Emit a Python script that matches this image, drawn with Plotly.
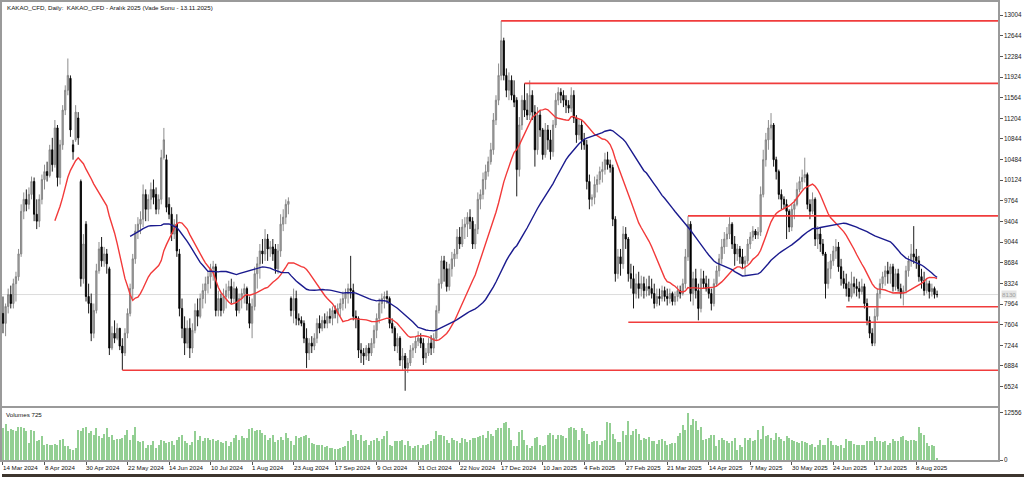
import pandas as pd
import plotly.graph_objects as go

# ---------------- data ----------------
open_ = [
    7801, 7628, 7923, 8130, 7974, 8320, 8442, 8839, 9583, 9791,
    9704, 9877, 10102, 9531, 9410, 9791, 10137, 10275, 10206, 10656,
    10396, 11037, 10172, 10742, 11348, 11694, 11902, 10742, 10829, 11210,
    10102, 8407, 9358, 8096, 7974, 7455, 7853, 8545, 8961, 8718,
    8839, 8580, 7196, 7455, 7369, 7542, 7231, 7110, 7455, 7801,
    8234, 8753, 9237, 9358, 9445, 9877, 9618, 9791, 9964, 9877,
    9618, 9791, 10518, 10483, 9704, 9531, 9185, 9358, 8839, 7888,
    7542, 7282, 7542, 7196, 7507, 7853, 7750, 8061, 8199, 8320,
    8442, 8580, 8615, 7853, 8061, 7853, 8096, 8199, 8269, 8061,
    8234, 7853, 8061, 8148, 8234, 7974, 7628, 7923, 8494, 8667,
    8891, 8839, 9099, 8926, 8961, 8926, 8580, 8891, 9358, 9480,
    9704, 8061, 7853, 8061, 7715, 7680, 7628, 7369, 7110, 7282,
    7231, 7369, 7628, 7542, 7680, 7628, 7750, 7715, 7853, 7801,
    7888, 7974, 8061, 8148, 8234, 8199, 7750, 7715, 7161, 7110,
    7058, 7196, 7110, 7282, 7507, 7715, 7974, 8061, 8096, 8061,
    7628, 7542, 7231, 7369, 6988, 7058, 6850, 6937, 7161, 7196,
    7317, 7369, 7282, 7023, 7110, 7282, 7196, 7369, 7853, 8320,
    8718, 8580, 8269, 8580, 8753, 8839, 9134, 9012, 9307, 9358,
    9480, 9410, 9012, 9272, 9791, 9877, 10137, 10275, 10448, 10656,
    11175, 11521, 11953, 12559, 11953, 11694, 11867, 11607, 11521, 10310,
    11088, 11521, 11348, 11261, 11607, 11313, 10656, 11261, 11002, 10570,
    11002, 10829, 10621, 11088, 11521, 11659, 11607, 11521, 11434, 11382,
    11607, 11210, 10916, 11088, 10829, 10742, 10102, 9791, 9826, 10050,
    10137, 10275, 10310, 10483, 10396, 10345, 9445, 8494, 8788, 8667,
    9185, 9099, 8494, 8407, 8148, 8320, 8234, 8320, 8199, 8269,
    8234, 8148, 7974, 8096, 8061, 8199, 8096, 8061, 8148, 8009,
    8096, 8199, 8148, 8320, 8788, 9358, 8148, 8407, 8199, 7888,
    8407, 8320, 8234, 8148, 7974, 8320, 8545, 8753, 8961, 9099,
    9185, 9358, 9012, 8839, 8926, 8788, 8667, 8718, 9012, 9134,
    9237, 9168, 9220, 9877, 10483, 10829, 11037, 11088, 10483, 10275,
    9877, 9791, 9704, 9583, 9307, 9618, 9704, 9964, 10102, 10172,
    10223, 9704, 9583, 9791, 9099, 9185, 9012, 8839, 8320, 8580,
    8718, 8891, 8961, 8615, 8407, 8320, 8234, 8096, 8320, 8269,
    8234, 8182, 8269, 7974, 7680, 7455, 7282, 7750, 8148, 8320,
    8442, 8545, 8494, 8615, 8269, 8494, 8234, 8148, 8199, 8545,
    8718, 8839, 8788, 8718, 8442, 8372, 8199, 8320, 8182, 8234,
    8130,
]
high = [
    8096, 7974, 8234, 8286, 8407, 8528, 8926, 9704, 9912, 9964,
    9999, 10189, 10172, 9791, 9877, 10223, 10396, 10448, 10742, 10864,
    11175, 11088, 10829, 11434, 11780, 12248, 11953, 10829, 11434, 11313,
    10137, 9185, 9410, 8320, 8148, 7974, 8667, 9047, 9134, 8961,
    8926, 8615, 7577, 7680, 7628, 7542, 7369, 7542, 7888, 8320,
    8839, 9358, 9480, 9583, 10050, 9964, 9877, 10085, 10137, 9999,
    9877, 10656, 11037, 10570, 9826, 9653, 9445, 9531, 8926, 8061,
    7750, 7680, 7715, 7628, 7974, 8061, 8148, 8320, 8442, 8545,
    8667, 8718, 8667, 8199, 8148, 8234, 8320, 8372, 8407, 8355,
    8269, 8148, 8234, 8320, 8269, 8096, 8061, 8615, 8788, 9012,
    9099, 9272, 9185, 9064, 9099, 9012, 9012, 9531, 9618, 9791,
    9826, 8096, 8234, 8199, 7801, 7750, 7680, 7542, 7369, 7404,
    7455, 7715, 7767, 7750, 7801, 7836, 7888, 7923, 7940, 7974,
    8061, 8182, 8234, 8320, 8805, 8320, 7853, 7750, 7282, 7196,
    7248, 7282, 7369, 7594, 7801, 8061, 8148, 8182, 8199, 8096,
    7715, 7577, 7455, 7404, 7196, 7110, 7023, 7248, 7282, 7404,
    7490, 7455, 7369, 7196, 7369, 7421, 7455, 7940, 8407, 8805,
    8805, 8701, 8667, 8874, 8926, 9272, 9307, 9445, 9480, 9566,
    9618, 9480, 9358, 9912, 9964, 10258, 10396, 10535, 10777, 11296,
    11607, 12161, 12905, 12611, 12075, 12006, 11953, 11867, 11573, 11227,
    11607, 11815, 11642, 11867, 11694, 11434, 11400, 11348, 11037, 11123,
    11088, 11002, 11175, 11642, 11746, 11729, 11694, 11607, 11521, 11746,
    11694, 11261, 11175, 11175, 10950, 10829, 10223, 9877, 10189, 10223,
    10362, 10448, 10604, 10621, 10483, 10396, 9497, 8926, 8926, 9324,
    9307, 9134, 8667, 8632, 8494, 8528, 8459, 8442, 8407, 8459,
    8407, 8320, 8234, 8234, 8286, 8269, 8234, 8234, 8182, 8182,
    8286, 8286, 8407, 8926, 9497, 9410, 8528, 8580, 8320, 8580,
    8545, 8459, 8407, 8234, 8407, 8632, 8839, 9099, 9220, 9307,
    9480, 9393, 9151, 9012, 8978, 8926, 8805, 9099, 9220, 9324,
    9272, 9307, 10016, 10656, 10950, 11175, 11296, 11123, 10535, 10310,
    9964, 9843, 9791, 9618, 9704, 9791, 10085, 10189, 10310, 10518,
    10258, 9791, 9912, 9826, 9324, 9307, 9099, 8874, 8701, 8839,
    8978, 9099, 9047, 8753, 8545, 8494, 8355, 8528, 8442, 8407,
    8355, 8407, 8320, 8061, 7750, 7542, 7888, 8234, 8407, 8528,
    8632, 8701, 8667, 8667, 8580, 8580, 8320, 8286, 8632, 8805,
    9012, 9324, 8926, 8805, 8580, 8528, 8407, 8372, 8320, 8269,
    8199,
]
low = [
    7455, 7404, 7801, 7888, 7888, 8009, 8372, 8788, 9445, 9583,
    9618, 9791, 9410, 9272, 9307, 9704, 9964, 10102, 10172, 10275,
    10345, 10016, 10050, 10656, 11261, 11607, 10881, 10483, 10794, 10742,
    8269, 8320, 8009, 7801, 7317, 7369, 7801, 8494, 8615, 8615,
    8494, 7075, 7161, 7282, 7334, 7161, 6815, 7058, 7369, 7750,
    8061, 8667, 9099, 9185, 9307, 9410, 9410, 9618, 9704, 9531,
    9531, 9704, 10483, 9566, 9445, 9064, 9099, 8788, 7750, 7369,
    7075, 7196, 7023, 7110, 7455, 7577, 7715, 7888, 7974, 8148,
    8234, 8372, 7750, 7750, 7750, 7801, 7888, 8061, 7974, 7974,
    7750, 7801, 7888, 7974, 7853, 7542, 7369, 7853, 8234, 8407,
    8667, 8718, 8718, 8788, 8718, 8494, 8494, 8788, 9237, 9358,
    9531, 7750, 7628, 7594, 7594, 7577, 7282, 6850, 6988, 7110,
    7161, 7282, 7455, 7490, 7542, 7542, 7628, 7594, 7715, 7628,
    7750, 7853, 7888, 7974, 8061, 7680, 7542, 7023, 6937, 6902,
    6988, 6971, 7058, 7196, 7369, 7628, 7801, 7888, 7974, 7542,
    7455, 7144, 7110, 6884, 6798, 6452, 6764, 6884, 7023, 7110,
    7231, 7196, 6902, 6937, 7058, 7075, 7110, 7334, 7801, 8234,
    8355, 8182, 8199, 8442, 8615, 8753, 8926, 8961, 9099, 9134,
    9272, 8926, 8926, 9185, 9618, 9791, 9964, 10189, 10396, 10570,
    11088, 11434, 11867, 11867, 11573, 11521, 11521, 11400, 9843, 10189,
    11002, 11227, 11175, 11175, 11175, 10362, 10570, 10881, 10483, 10518,
    10656, 10483, 10535, 11037, 11434, 11469, 11400, 11296, 11296, 11313,
    11123, 10777, 10829, 10656, 10656, 9964, 9618, 9670, 9704, 9912,
    10050, 10085, 10223, 10310, 10258, 9324, 8355, 8407, 8459, 8580,
    8926, 8355, 8234, 7888, 8061, 8061, 8096, 8061, 8096, 8113,
    8061, 7888, 7923, 7940, 8009, 8009, 7940, 7974, 7940, 7940,
    8009, 8061, 8113, 8234, 8718, 8009, 7940, 8061, 7680, 7819,
    8234, 8182, 8061, 7853, 7923, 8269, 8442, 8667, 8839, 8961,
    9099, 8926, 8632, 8718, 8667, 8580, 8459, 8667, 8926, 9064,
    9099, 9099, 9151, 9826, 10362, 10656, 10829, 10362, 10137, 9791,
    9618, 9618, 9099, 9220, 9237, 9445, 9670, 9912, 9964, 10085,
    9618, 9445, 9531, 8978, 8926, 8874, 8805, 8061, 8234, 8407,
    8632, 8753, 8528, 8286, 8234, 8096, 8009, 8061, 8148, 8096,
    8061, 8130, 7888, 7594, 7369, 7231, 7231, 7680, 8061, 8234,
    8286, 8320, 8320, 8182, 8199, 8182, 8061, 7940, 8148, 8442,
    8615, 8667, 8580, 8355, 8234, 8113, 8148, 8061, 8096, 8061,
    8079,
]
close = [
    7628, 7923, 8130, 7974, 8320, 8442, 8839, 9583, 9791, 9704,
    9877, 10102, 9531, 9410, 9791, 10137, 10275, 10206, 10656, 10396,
    11037, 10172, 10742, 11348, 11694, 11953, 11002, 10621, 11313, 10864,
    8407, 9012, 8096, 7974, 7455, 7853, 8545, 8926, 8718, 8839,
    8667, 7196, 7455, 7369, 7542, 7231, 7110, 7455, 7801, 8234,
    8753, 9237, 9358, 9445, 9877, 9618, 9791, 9964, 9826, 9618,
    9791, 10518, 10829, 9653, 9531, 9185, 9358, 8891, 7888, 7542,
    7282, 7542, 7196, 7507, 7853, 7750, 8061, 8199, 8320, 8442,
    8580, 8615, 7853, 8061, 7853, 8096, 8199, 8269, 8061, 8234,
    7853, 8061, 8148, 8234, 7974, 7628, 7923, 8494, 8667, 8891,
    8839, 9099, 8926, 8961, 8839, 8580, 8891, 9358, 9480, 9704,
    9756, 7853, 8061, 7715, 7680, 7628, 7369, 7110, 7282, 7231,
    7369, 7628, 7542, 7680, 7628, 7750, 7715, 7853, 7801, 7888,
    7974, 8061, 8148, 8234, 8199, 7750, 7715, 7161, 7110, 7058,
    7196, 7110, 7282, 7507, 7715, 7974, 8061, 8096, 8061, 7628,
    7542, 7231, 7369, 6988, 7058, 6850, 6937, 7161, 7196, 7317,
    7369, 7282, 7023, 7110, 7282, 7196, 7369, 7853, 8320, 8718,
    8580, 8269, 8580, 8753, 8839, 9134, 9012, 9307, 9358, 9480,
    9410, 9012, 9272, 9791, 9877, 10137, 10275, 10448, 10656, 11175,
    11521, 11953, 12559, 11953, 11694, 11867, 11607, 11486, 10310, 11088,
    11521, 11348, 11261, 11607, 11313, 10656, 11261, 11002, 10570, 11002,
    10829, 10621, 11088, 11521, 11659, 11607, 11521, 11434, 11382, 11607,
    11210, 10916, 11088, 10829, 10742, 10102, 9791, 9826, 10050, 10137,
    10275, 10310, 10483, 10396, 10345, 9445, 8494, 8788, 8667, 9185,
    9099, 8494, 8407, 8148, 8320, 8234, 8320, 8199, 8269, 8234,
    8148, 7974, 8096, 8061, 8199, 8096, 8061, 8148, 8009, 8096,
    8199, 8148, 8320, 8788, 9358, 8148, 8407, 8199, 7888, 8407,
    8320, 8234, 8148, 7974, 8320, 8545, 8753, 8961, 9099, 9185,
    9358, 9012, 8839, 8926, 8788, 8667, 8718, 9012, 9134, 9237,
    9168, 9220, 9877, 10483, 10829, 11037, 11088, 10483, 10275, 9877,
    9791, 9704, 9583, 9307, 9618, 9704, 9964, 10102, 10172, 10223,
    9704, 9583, 9791, 9099, 9185, 9012, 8839, 8320, 8580, 8718,
    8891, 8961, 8615, 8407, 8320, 8234, 8096, 8320, 8269, 8234,
    8182, 8269, 7974, 7680, 7455, 7282, 7750, 8148, 8320, 8442,
    8545, 8494, 8615, 8269, 8494, 8234, 8148, 8199, 8545, 8718,
    8839, 8788, 8718, 8442, 8372, 8199, 8320, 8182, 8234, 8130,
    8130,
]
volume = [
    8526, 9570, 7656, 8352, 8004, 7656, 8961, 8874,
    8526, 7830, 4611, 8004, 7656, 5220, 5481, 6351,
    4176, 4350, 4002, 4176, 4350, 4176, 5394, 5568,
    3741, 3741, 3132, 2871, 3306, 8004, 7656, 8526,
    8961, 7221, 7656, 6786, 8526, 6351, 5916, 6960,
    8526, 6090, 6786, 5481, 5742, 5742, 5916, 6612,
    8004, 5481, 6786, 8961, 5046, 4872, 5046, 3306,
    4176, 4176, 5046, 3306, 4176, 5394, 5046, 4611,
    4872, 5046, 4176, 5481, 6090, 6786, 5220, 4611,
    4176, 4872, 7656, 5481, 6351, 5046, 5916, 5916,
    5481, 5742, 5046, 5481, 4872, 4611, 5046, 3741,
    4872, 5916, 6786, 5481, 6351, 5916, 5916, 8352,
    8526, 7656, 8004, 8091, 7221, 6612, 5481, 5916,
    6786, 4872, 5481, 6090, 5394, 7221, 5916, 5046,
    4176, 6351, 5916, 6090, 6351, 6612, 5916, 4611,
    4350, 4176, 4002, 4002, 3480, 3741, 3306, 3306,
    3132, 3132, 3306, 3480, 3741, 5046, 8004, 6612,
    6960, 5481, 6786, 5046, 5481, 4176, 5220, 5394,
    5916, 5220, 5568, 6351, 7656, 4176, 3741, 5046,
    5220, 5046, 5481, 4176, 5220, 3741, 3306, 3741,
    4176, 3306, 4002, 4176, 4350, 5220, 5742, 7656,
    6786, 6786, 6351, 5481, 4611, 5916, 5481, 5220,
    4611, 5916, 5655, 4872, 5481, 5916, 5916, 6090,
    6351, 6612, 5916, 7656, 6960, 6351, 8091, 8526,
    8700, 9831, 10266, 8526, 5481,
    3741, 3741, 7395, 8004, 5481, 4176, 3306, 3741, 5916, 6090,
    4176, 3915, 4176, 6612, 7221, 6786, 5742, 6786, 6612, 6351,
    5916, 8526, 8961, 8526, 8091, 5481, 8700, 7830, 6960, 4437,
    4785, 5046, 5046, 4176, 5046, 5481, 10266, 9831, 6960, 5742,
    4785, 4872, 7656, 6786, 10440, 6786, 7656, 8265, 6960, 5481,
    5916, 5742, 6090, 5220, 5220, 4350, 5481, 5742, 5046, 4176,
    4350, 4611, 4611, 6351, 7221, 9396, 8091, 12441, 9396, 10962,
    10440, 8091, 8961, 5481, 5742, 5916, 6612, 6786, 3741, 5481,
    5916, 5481, 5220, 4611, 5046, 5916, 2871, 4176, 3480, 5916,
    5481, 5916, 5046, 5481, 7917, 5742, 9135, 6351, 6612, 5916,
    5481, 7221, 6090, 5742, 5046, 6351, 5916, 5481, 5046, 4872,
    4611, 5046, 4872, 4611, 4176, 4350, 3480, 4176, 5481, 4176,
    4176, 5916, 5046, 4176, 4176, 3741, 4002, 3306, 5742, 5046,
    5220, 4350, 4002, 4176, 4002, 4002, 5046, 5220, 5220, 6090,
    5046, 5046, 4872, 5220, 4176, 4611, 5742, 5220, 5220, 6090,
    6351, 5481, 5046, 5481, 5481, 5046, 8961, 7221, 6612, 4611,
    3741, 4176, 3741, 696,
]
tick_bars = [0, 16, 32, 48, 64, 80, 96, 112, 128, 144, 160, 176, 192,
             208, 224, 240, 256, 272, 288, 304, 320, 336, 352]
tick_labels = ["14 Mar 2024", "8 Apr 2024", "30 Apr 2024", "22 May 2024",
               "14 Jun 2024", "10 Jul 2024", "1 Aug 2024", "23 Aug 2024",
               "17 Sep 2024", "9 Oct 2024", "31 Oct 2024", "22 Nov 2024",
               "17 Dec 2024", "10 Jan 2025", "4 Feb 2025", "27 Feb 2025",
               "21 Mar 2025", "14 Apr 2025", "7 May 2025", "30 May 2025",
               "24 Jun 2025", "17 Jul 2025", "8 Aug 2025"]
price_ticks = [13004, 12644, 12284, 11924, 11564, 11204, 10844, 10484, 10124,
               9764, 9404, 9044, 8684, 8324, 7964, 7604, 7244, 6884, 6524]
levels = [12905, 11815, 9502, 7917, 7646, 6810]
level_start = [192, 201, 264, 325, 241, 46]
ma_fast, ma_slow = 21, 50
title_text = "KAKAO_CFD, Daily:  KAKAO_CFD - Aralık 2025 (Vade Sonu - 13.11.2025)"

# ---------------- figure ----------------
n = len(close)
idx = list(range(n))
cs = pd.Series(close, dtype=float)
sma_f = cs.rolling(ma_fast).mean()
sma_s = cs.rolling(ma_slow).mean()

W, H = 1024, 480
FONT = "Liberation Sans, Arial, sans-serif"
X_RANGE = [-0.38, 383.5]
Y_RANGE = [6193, 13234]
AX = "#9a9a9a"

fig = go.Figure()
fig.add_trace(go.Candlestick(
    x=idx, open=open_, high=high, low=low, close=close,
    increasing=dict(line=dict(color="#808080", width=0.9), fillcolor="#a8a8a8"),
    decreasing=dict(line=dict(color="#000000", width=0.9), fillcolor="#000000"),
    whiskerwidth=0, showlegend=False, hoverinfo="skip",
    xaxis="x", yaxis="y"))
fig.add_trace(go.Scatter(x=idx, y=sma_f, mode="lines",
                         line=dict(color="#f23a3a", width=1.4),
                         showlegend=False, xaxis="x", yaxis="y"))
fig.add_trace(go.Scatter(x=idx, y=sma_s, mode="lines",
                         line=dict(color="#1b1b8e", width=1.4),
                         showlegend=False, xaxis="x", yaxis="y"))
fig.add_trace(go.Bar(x=idx, y=volume, width=0.45,
                     marker=dict(color="#93cf93", line=dict(width=0)),
                     showlegend=False, xaxis="x2", yaxis="y2"))

shapes = []
# current price line
shapes.append(dict(type="line", xref="x", yref="y", x0=X_RANGE[0], x1=X_RANGE[1],
                   y0=close[-1], y1=close[-1], line=dict(color="#dcdcdc", width=1),
                   layer="below"))
for lv, st in zip(levels, level_start):
    shapes.append(dict(type="line", xref="x", yref="y", x0=st, x1=X_RANGE[1],
                       y0=lv, y1=lv, line=dict(color="#f03c3c", width=1.6)))
# bottom dark strip
shapes.append(dict(type="rect", xref="paper", yref="paper", x0=0, x1=1,
                   y0=0, y1=3 / H, fillcolor="#3d352e", line=dict(width=0)))

annotations = [
    dict(text=title_text, xref="paper", yref="paper", x=3 / W, y=1 - 1 / H,
         xanchor="left", yanchor="top", showarrow=False,
         font=dict(family=FONT, size=6.2, color="#111")),
    dict(text="Volumes 725", xref="paper", yref="paper", x=2 / W, y=1 - 411 / H,
         xanchor="left", yanchor="top", showarrow=False,
         font=dict(family=FONT, size=6.2, color="#111")),
    dict(text=str(close[-1]), xref="paper", yref="y", x=1001 / W, y=close[-1],
         xanchor="left", yanchor="middle", showarrow=False, bgcolor="#e4e4e4",
         borderpad=0, font=dict(family=FONT, size=6.2, color="#a0a0a0")),
]
for tb, tl in zip(tick_bars, tick_labels):
    annotations.append(dict(text=tl, xref="x", yref="paper", x=tb, y=1 - 465 / H,
                            xanchor="left", yanchor="top", showarrow=False, xshift=-2,
                            font=dict(family=FONT, size=6.2, color="#111")))

fig.update_layout(
    width=W, height=H, autosize=False,
    margin=dict(l=0, r=0, t=0, b=0),
    paper_bgcolor="white", plot_bgcolor="white",
    bargap=0,
    xaxis=dict(domain=[0, 998 / W], range=X_RANGE, showgrid=False, zeroline=False,
               showticklabels=False, ticks="", showline=True, mirror=True,
               linecolor=AX, linewidth=2, rangeslider=dict(visible=False),
               anchor="y"),
    yaxis=dict(domain=[1 - 408 / H, 1 - 1 / H], range=Y_RANGE, side="right",
               showgrid=False, zeroline=False, tickvals=price_ticks,
               ticktext=[str(v) for v in price_ticks], ticks="outside",
               ticklen=3, tickcolor="#555", tickwidth=1,
               tickfont=dict(family=FONT, size=6.3, color="#222"),
               showline=True, mirror=True, linecolor=AX, linewidth=1.5,
               anchor="x"),
    xaxis2=dict(domain=[0, 998 / W], range=X_RANGE, matches="x", showgrid=False,
                zeroline=False, showticklabels=False, tickvals=tick_bars,
                ticks="outside", ticklen=3, tickcolor="#555",
                showline=True, mirror=True, linecolor=AX, linewidth=1.5,
                anchor="y2"),
    yaxis2=dict(domain=[1 - 463 / H, 1 - 410 / H], range=[0, 13833], side="right",
                showgrid=False, zeroline=False, tickvals=[0, 12556],
                ticktext=["0", "12556"], ticks="outside", ticklen=3,
                tickcolor="#555", tickfont=dict(family=FONT, size=6.3, color="#222"),
                showline=True, mirror=True, linecolor=AX, linewidth=1.5,
                anchor="x2"),
    shapes=shapes, annotations=annotations,
)

fig.write_html("out.html", config={"displayModeBar": False},
               post_script="document.body.style.margin='0px';"
                           "document.body.style.overflow='hidden';")
